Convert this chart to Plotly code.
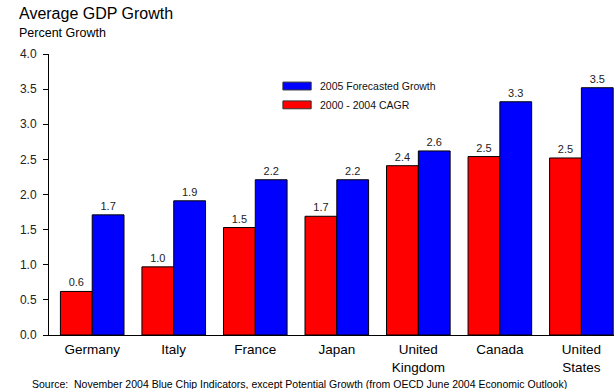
import plotly.graph_objects as go

countries = ["Germany", "Italy", "France", "Japan", "United<br>Kingdom", "Canada", "United<br>States"]
cagr_2000_2004 = [0.62, 0.97, 1.53, 1.69, 2.41, 2.54, 2.52]
forecast_2005 = [1.71, 1.91, 2.21, 2.21, 2.62, 3.32, 3.52]
y_ticks = [0.0, 0.5, 1.0, 1.5, 2.0, 2.5, 3.0, 3.5, 4.0]

FONT = "Liberation Sans, Arial, sans-serif"
RED = "#ff0000"
BLUE = "#0000ff"

fig = go.Figure()
fig.add_trace(go.Bar(
    x=countries, y=cagr_2000_2004, name="2000 - 2004 CAGR",
    marker=dict(color=RED, line=dict(color="#000000", width=1)),
    text=[f"{v:.1f}" for v in cagr_2000_2004], textposition="outside",
    textfont=dict(family=FONT, size=11, color="#222222"), cliponaxis=False,
))
fig.add_trace(go.Bar(
    x=countries, y=forecast_2005, name="2005 Forecasted Growth",
    marker=dict(color=BLUE, line=dict(color="#000000", width=1)),
    text=[f"{v:.1f}" for v in forecast_2005], textposition="outside",
    textfont=dict(family=FONT, size=11, color="#222222"), cliponaxis=False,
))

# Legend drawn as boxes with labels inside the plot area
legend_items = [("2005 Forecasted Growth", BLUE, 0.886), ("2000 - 2004 CAGR", RED, 0.819)]
shapes = []
annotations = []
for label, color, yc in legend_items:
    shapes.append(dict(type="rect", xref="paper", yref="paper",
                       x0=0.414, x1=0.464, y0=yc - 0.014, y1=yc + 0.014,
                       fillcolor=color, line=dict(color="#333333", width=1)))
    annotations.append(dict(text=label, xref="paper", yref="paper", x=0.476, y=yc,
                            xanchor="left", yanchor="middle", showarrow=False,
                            font=dict(family=FONT, size=10.5, color="#111111")))

annotations += [
    dict(text="Average GDP Growth", xref="paper", yref="paper", x=-0.056, y=1.143,
         xanchor="left", yanchor="middle", showarrow=False,
         font=dict(family=FONT, size=16, color="#000000")),
    dict(text="Percent Growth", xref="paper", yref="paper", x=-0.056, y=1.076,
         xanchor="left", yanchor="middle", showarrow=False,
         font=dict(family=FONT, size=12.5, color="#000000")),
    dict(text="Source:  November 2004 Blue Chip Indicators, except Potential Growth (from OECD June 2004 Economic Outlook)",
         xref="paper", yref="paper", x=-0.034, y=-0.175, xanchor="left", yanchor="middle",
         showarrow=False, font=dict(family=FONT, size=10.5, color="#000000")),
]

fig.update_layout(
    width=614, height=389,
    margin=dict(l=49, r=0, t=54, b=54),
    paper_bgcolor="white", plot_bgcolor="white",
    barmode="group", bargap=0.22, bargroupgap=0.0,
    showlegend=False,
    font=dict(family=FONT, color="#000000"),
    shapes=shapes, annotations=annotations,
    xaxis=dict(range=[-0.53, 6.40], showline=True, linecolor="#000000", linewidth=1,
               ticks="", ticklabelstandoff=2,
               tickfont=dict(family=FONT, size=13.5, color="#000000"),
               showgrid=False, zeroline=False),
    yaxis=dict(range=[0, 4.0], tickvals=y_ticks, ticktext=[f"{v:.1f}" for v in y_ticks],
               showline=True, linecolor="#000000", linewidth=1, ticks="outside",
               ticklen=5, tickcolor="#000000", ticklabelstandoff=4,
               tickfont=dict(family=FONT, size=12, color="#222222"),
               showgrid=False, zeroline=False),
)

fig.write_html("out.html")
